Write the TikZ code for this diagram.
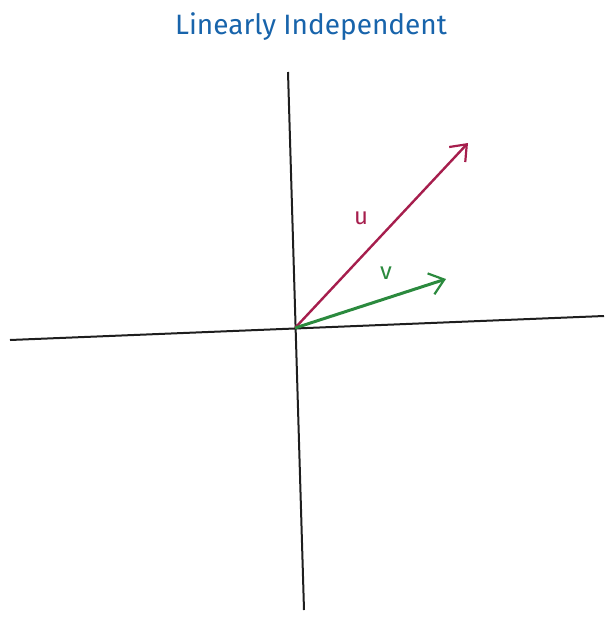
\documentclass[tikz,border=0pt]{standalone}
\usepackage{fontspec}
\setmainfont{Fira Sans}
\usetikzlibrary{arrows.meta}
\definecolor{ink}{HTML}{1E1E1E}
\definecolor{titleblue}{HTML}{1864AB}
\definecolor{ured}{HTML}{A61E4D}
\definecolor{vgreen}{HTML}{2B8A3E}

\begin{document}
\begin{tikzpicture}[x=1pt,y=-1pt,>={Straight Barb[length=14pt,width=22pt,line width=2.2pt]}]
        \useasboundingbox (0,0) rectangle (614,622);
        \coordinate (o) at (295,328);
        \coordinate (xl) at (10,340);
        \coordinate (xr) at (604,316);
        \coordinate (yt) at (288,72);
        \coordinate (yb) at (304,610);
        \coordinate (u) at (468,143);
        \coordinate (v) at (446,279);
        \draw[ink,line width=2pt] (xl) -- (xr);
        \draw[ink,line width=2pt] (yt) -- (yb);
        \draw[->,line width=2.4pt,ured] (o) -- (u);
        \draw[->,line width=3pt,vgreen] (o) -- (v);
        \node[titleblue,font=\fontsize{28}{32}\selectfont] (title) at (311,27) {Linearly Independent};
        \node[ured,font=\fontsize{24}{28}\selectfont] (ulabel) at (361,218) {u};
        \node[vgreen,font=\fontsize{24}{28}\selectfont] (vlabel) at (386,273) {v};
      \end{tikzpicture}
\end{document}
